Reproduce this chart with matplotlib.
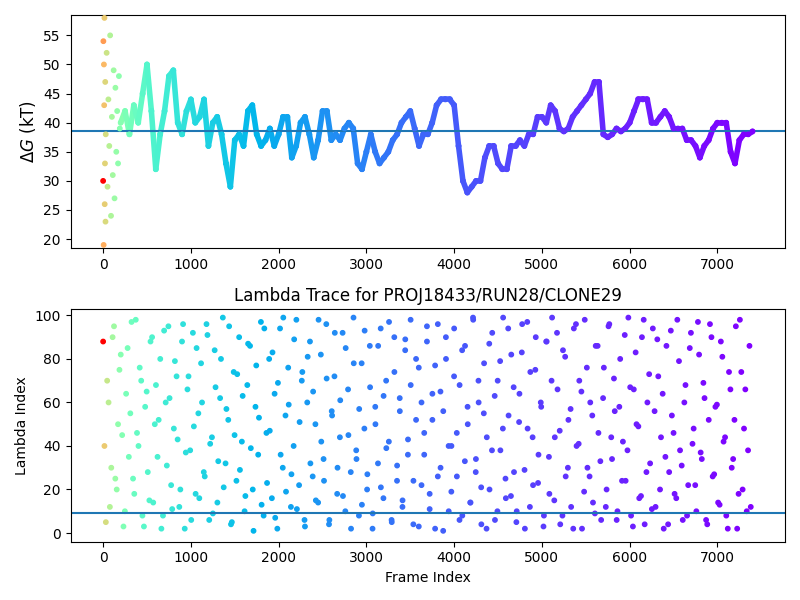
import numpy as np
import matplotlib
matplotlib.use("Agg")
import matplotlib.pyplot as plt
from matplotlib.colors import PowerNorm

early_frames = [0,3,6,9,12,15,18,21,24,27,30,40,50,60,70,80,90,100,110,120,130,140,150,160,170,180,190]
early_dg = [30,54,19,50,43,58,26,33,47,23,38,52,29,44,36,55,24,41,31,49,27,46,35,42,33,48,39]
trace_frames = list(range(200, 7401, 50))
trace_dg = [40,42,38,43,40,45,50,42,32,38,42,48,49,40,38,42,44,40,41,44,36,40,41,38,33,29,37,38,36,42,
            43,38,36,37,39,36,38,41,41,34,36,40,41,38,34,37,42,42,37,38,37,39,40,39,33,32,35,38,35,33,
            34,35,37,38,40,41,42,39,36,38,38,40,43,44,44,44,43,36,30,28,29,30,30,34,36,36,33,32,32,36,
            36,37,36,38,38,41,41,40,43,42,39,38.5,39,41,42,43,44,45,47,47,38,37.5,38,39,38.5,39,40,42,44,44,
            44,40,40,41,42,41,39,39,39,37,37,36,34,36,37,39,40,40,40,35,33,37,38,38,38.5]
lam_vals_a = [88,5,60,30,95,20,75,45,10,85, 55,25,98,40,70,3,65,15,90,50,
            35,80,8,60,95,22,48,72,12,88, 2,66,38,92,18,55,78,28,96,6,
            44,84,14,62,99,32,52,4,74,24, 90,42,10,68,86,20,58,36,97,8,
            46,80,16,64,2,94,30,54,76,12, 40,98,22,70,6,60,88,26,50,14,
            82,34,96,4,56,72,18,44,92,10, 66,28,99,38,8,78,48,20,86,2,
            58,32,94,16,70,42,6,90,24,62, 12,84,36,98,4,52,76,22,46,88,
            18,64,2,96,30,56,80,10,40,94, 26,68,8,86,50,14,98,34,60,4,
            78,44,20,92,6,70,38,99,16,54, 82,28,10,64,96,2,48,74,22,90,
            36,58,8,88,18,99,44,66,4,84, 26,52,12,94,40,70,2,98,30,60,
            14,86,46,6,76,20,96,34,56,10, 80,42,24,99,8,66,50,16,90,4,
            60,32,94,12,72,44,2,86,28,54, 18,98,38,6,68,22,92,48,10,82,
            34,62,4,96,26,58,14,88,42,8, 74,30,52,2,98,20,66,38,12]
lam_vals_b = [40,70,12,90,25,50,82,3,64,35, 97,18,46,76,8,58,28,88,14,68,
            52,2,93,31,62,11,79,43,20,96, 37,72,6,49,85,16,60,26,91,41,
            9,67,33,80,21,57,95,5,45,73, 29,63,17,87,39,1,77,53,13,94,
            23,47,83,7,69,36,99,19,59,27, 89,11,51,74,3,81,32,65,15,98,
            42,24,71,6,54,92,30,61,17,85, 45,2,78,34,57,13,93,27,67,9,
            50,86,21,63,39,97,5,74,31,56, 15,89,43,68,24,80,3,60,36,95,
            11,52,77,26,65,1,90,40,19,72, 46,6,84,33,58,14,99,28,70,21,
            55,2,87,38,63,10,79,48,25,94, 17,67,5,51,83,29,97,12,44,75,
            23,60,3,88,35,70,15,92,47,8, 81,30,57,2,96,41,65,19,76,26,
            54,9,86,33,62,12,95,44,71,6, 58,24,91,38,67,3,83,49,17,98,
            28,73,11,56,89,20,64,35,4,93, 46,16,79,31,60,8,85,41,22,97,
            37,69,6,52,90,27,59,13,81,44, 2,66,34,95,18,74,48,10,86]
lam_last_frame = 7380
n_a = len(lam_vals_a); n_b = len(lam_vals_b)
lam_frames_a = [round(i * lam_last_frame / (n_a - 1)) for i in range(n_a)]
lam_frames_b = [round((i + 0.5) * lam_last_frame / n_b) for i in range(n_b)]

cmap = "rainbow_r"
norm = PowerNorm(gamma=0.2, vmin=0, vmax=7400)

fig, (ax1, ax2) = plt.subplots(2, 1, figsize=(8, 6), dpi=100)
fr = np.array(early_frames + trace_frames)
dg = np.array(early_dg + trace_dg)
tf = np.array(trace_frames); td = np.array(trace_dg)
cm = plt.get_cmap(cmap)
for i in range(len(tf) - 1):
    ax1.plot(tf[i:i+2], td[i:i+2], color=cm(norm(tf[i])), lw=4, solid_capstyle="round")
ax1.scatter(fr, dg, c=fr, cmap=cmap, norm=norm, s=10, zorder=3)
ax1.axhline(38.5, color="tab:blue")
ax1.set_ylabel(r"$\Delta G$ (kT)", fontsize=12)
ax1.set_ylim(18.5, 58.5)
ax1.set_yticks(range(20, 56, 5))
ax1.set_xlim(-370, 7770)

lf = np.array(lam_frames_a + lam_frames_b); lv = np.array(lam_vals_a + lam_vals_b)
ax2.scatter(lf, lv, c=lf, cmap=cmap, norm=norm, s=10)
ax2.axhline(9, color="tab:blue")
ax2.set_ylim(-4, 103)
ax2.set_xlim(-370, 7770)
ax2.set_ylabel("Lambda Index")
ax2.set_xlabel("Frame Index")
ax2.set_title("Lambda Trace for PROJ18433/RUN28/CLONE29")
fig.tight_layout()
fig.savefig("out.png")
